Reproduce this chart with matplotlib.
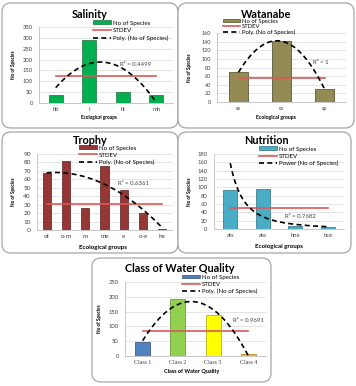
import numpy as np
import matplotlib.pyplot as plt
from matplotlib.patches import FancyBboxPatch
from matplotlib.transforms import IdentityTransform

plt.rcParams['font.family'] = ['Lato', 'DejaVu Sans']

W, H = 356, 386

salinity_groups = ["hb", "i", "hl", "mh"]
salinity_counts = [35, 288, 52, 38]

watanabe_groups = ["sx", "es", "sp"]
watanabe_counts = [69, 141, 30]

trophy_groups = ["ot", "o-m", "m", "me", "e", "o-e", "he"]
trophy_counts = [68, 82, 26, 76, 47, 20, 1]

nutrition_groups = ["ats", "ate", "hne", "hce"]
nutrition_counts = [94, 96, 8, 4]

quality_classes = ["Class 1", "Class 2", "Class 3", "Class 4"]
quality_counts = [46, 191, 140, 6]

r2_salinity = "R² = 0.4499"
r2_watanabe = "R² = 1"
r2_trophy = "R² = 0.6361"
r2_nutrition = "R² = 0.7682"
r2_quality = "R² = 0.9691"


def fx(x):
    return x / W


def fy(y):
    return 1 - y / H


fig = plt.figure(figsize=(W / 100, H / 100), dpi=100)
fig.patch.set_facecolor("white")


def panel(box, axbox, title, title_xy, groups, counts, colors, edge,
          ymax, ystep, trend, r2, r2_xy, leg_xy, xlabel, xlabel_xy,
          ylabel_x, tick_fs=4.2, xlab_fs=3.6, leg_fs=4.4, leg_sp=0.35,
          trend_label="Poly. (No of Species)", xtick_family=None):
    x0, y0, x1, y1 = box
    fig.add_artist(FancyBboxPatch((x0, H - y1), x1 - x0, y1 - y0,
                                  boxstyle="round,pad=0,rounding_size=9",
                                  transform=IdentityTransform(), fc="white",
                                  ec="#a6a6a6", lw=0.9, zorder=-1))
    a0, t0, a1, b0 = axbox
    ax = fig.add_axes([fx(a0), fy(b0), (a1 - a0) / W, (b0 - t0) / H])
    ax.set_facecolor("none")

    n = len(counts)
    idx = np.arange(n)
    bars = ax.bar(idx, counts, width=0.42, color=colors, edgecolor=edge,
                  lw=0.5, zorder=2)

    sd = np.std(counts, ddof=1)
    std_line, = ax.plot([0, n - 1], [sd, sd], color="#d9595a", lw=1.2,
                        zorder=3)

    xs = np.linspace(0, n - 1, 200)
    if trend == "power":
        b, lna = np.polyfit(np.log(idx + 1), np.log(counts), 1)
        ys = np.exp(lna) * (xs + 1) ** b
    else:
        ys = np.polyval(np.polyfit(idx, counts, 2), xs)
    trend_line, = ax.plot(xs, ys, color="black", ls=(0, (3, 2)), lw=1.2,
                          zorder=4)

    ax.set_xlim(-0.5, n - 0.5)
    ax.set_ylim(0, ymax)
    ax.set_yticks(np.arange(0, ymax + 1, ystep))
    ax.set_xticks(idx)
    ax.set_xticklabels(groups, family=xtick_family)
    ax.tick_params(length=0, labelsize=tick_fs, colors="#404040")
    ax.tick_params(axis="y", pad=4.5)
    ax.tick_params(axis="x", pad=3)
    ax.yaxis.grid(True, color="#d9d9d9", lw=0.5)
    ax.set_axisbelow(True)
    for s in ["top", "right"]:
        ax.spines[s].set_visible(False)
    for s in ["left", "bottom"]:
        ax.spines[s].set_color("#bfbfbf")
        ax.spines[s].set_linewidth(0.6)

    ax.legend([bars, std_line, trend_line],
              ["No of Species", "STDEV", trend_label],
              loc="upper left", bbox_to_anchor=(fx(leg_xy[0]), fy(leg_xy[1])),
              bbox_transform=fig.transFigure, frameon=False, fontsize=leg_fs,
              handlelength=2.9, handleheight=0.6, handletextpad=0.4,
              labelspacing=leg_sp, borderpad=0, borderaxespad=0)

    fig.text(fx(title_xy[0]), fy(title_xy[1]), title, fontsize=7.8,
             fontweight="bold", ha="center", va="center")
    fig.text(fx(r2_xy[0]), fy(r2_xy[1]), r2, fontsize=4.3, ha="left",
             va="center", color="#404040")
    fig.text(fx(xlabel_xy[0]), fy(xlabel_xy[1]), xlabel, fontsize=xlab_fs,
             fontweight="bold", ha="center", va="center")
    fig.text(fx(ylabel_x), fy((t0 + b0) / 2), "No of Species", fontsize=3.4,
             fontweight="bold", rotation=90, ha="center", va="center")


panel((2, 3, 178, 128), (39, 27, 173, 103), "Salinity", (90, 15),
      salinity_groups, salinity_counts, "#00b050", "#1f6e3a",
      350, 50, "poly", r2_salinity, (120, 64), (93, 20.5),
      "Ecological groups", (99, 118), 13, xlab_fs=3.4, leg_sp=0.4)

panel((178, 3, 354, 128), (217, 33, 346, 102), "Watanabe", (266, 14),
      watanabe_groups, watanabe_counts, "#948a54", "#4a4426",
      160, 20, "poly", r2_watanabe, (313, 62), (223, 18.5),
      "Ecological groups", (276, 118), 189, tick_fs=4.0, xlab_fs=3.7,
      leg_fs=4.2, leg_sp=0.12)

panel((2, 132, 178, 253), (37, 154, 172, 230), "Trophy", (90, 141),
      trophy_groups, trophy_counts, "#953735", "#5a1f1e",
      90, 10, "poly", r2_trophy, (118, 184), (79, 145.5),
      "Ecological groups", (103, 247), 13, tick_fs=4.6, xlab_fs=4.4,
      leg_sp=0.3)

panel((178, 132, 351, 253), (214, 154, 344, 229), "Nutrition", (266, 141),
      nutrition_groups, nutrition_counts, "#4bacc6", "#2a6f82",
      180, 20, "power", r2_nutrition, (285, 216), (259, 146.5),
      "Ecological groups", (279, 246), 189, tick_fs=4.2, xlab_fs=4.4,
      trend_label="Power (No of Species)")

panel((92, 258, 271, 382), (125, 282, 266, 356), "Class of Water Quality",
      (180, 269), quality_classes, quality_counts,
      ["#4f81bd", "#92d050", "#ffff00", "#ffc000"],
      ["#2c4d75", "#5e8a2e", "#a6a600", "#a67c00"],
      250, 50, "poly", r2_quality, (233, 320), (182, 274.5),
      "Class of Water Quality", (192, 372), 100, xlab_fs=4.0,
      xtick_family="Liberation Serif")

fig.savefig("out.png", dpi=100)
